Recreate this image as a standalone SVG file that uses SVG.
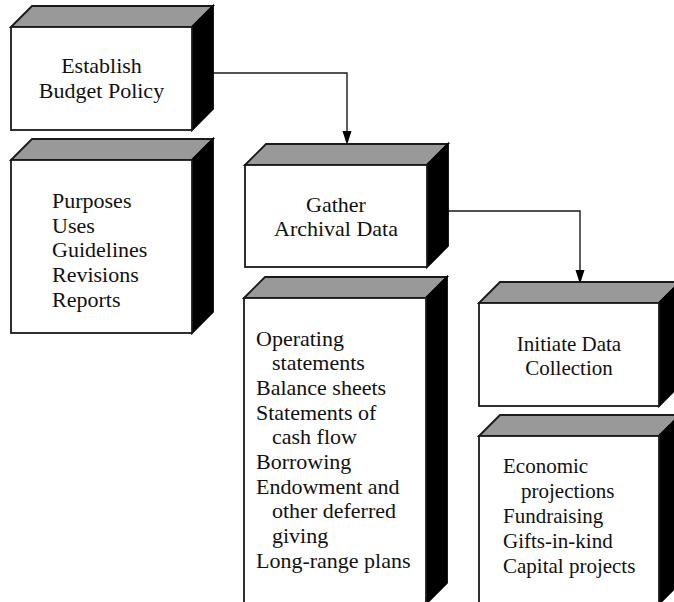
<svg xmlns="http://www.w3.org/2000/svg" width="674" height="602" viewBox="0 0 674 602">
  <defs>
    <style>
      .front { fill: #ffffff; stroke: #1a1a1a; stroke-width: 1.8; stroke-linejoin: miter; }
      .top { fill: #999999; stroke: #1a1a1a; stroke-width: 1.8; stroke-linejoin: miter; }
      .side { fill: #000000; stroke: #000000; stroke-width: 1.8; stroke-linejoin: miter; }
      .wire { fill: none; stroke: #1a1a1a; stroke-width: 1.4; }
      .head { fill: #000000; }
      text { font-family: "Liberation Serif", "Times New Roman", serif; font-size: 22px; fill: #111111; }
      .right text { font-size: 21px; }
      .c { text-anchor: middle; }
    </style>
  </defs>

  <rect width="674" height="602" fill="#ffffff"/>

  <!-- connectors -->
  <g id="connectors">
    <path class="wire" d="M213,73 H347 V131"/>
    <path class="head" d="M342.5,131 L351.5,131 L347,145 Z"/>
    <path class="wire" d="M448,211 H580 V270"/>
    <path class="head" d="M575.5,270 L584.5,270 L580,284 Z"/>
  </g>

  <!-- Establish Budget Policy -->
  <g id="establish">
    <polygon class="top" points="11,27 32,6 213,6 192,27"/>
    <polygon class="side" points="192,27 213,6 213,109 192,130"/>
    <rect class="front" x="11" y="27" width="181" height="103"/>
    <text class="c" x="101.5" y="73">Establish</text>
    <text class="c" x="101.5" y="98">Budget Policy</text>
  </g>

  <!-- Policy contents -->
  <g id="policy-items">
    <polygon class="top" points="11,160 32,139 213,139 192,160"/>
    <polygon class="side" points="192,160 213,139 213,312 192,333"/>
    <rect class="front" x="11" y="160" width="181" height="173"/>
    <text x="52" y="208">Purposes</text>
    <text x="52" y="232.7">Uses</text>
    <text x="52" y="257.4">Guidelines</text>
    <text x="52" y="282.1">Revisions</text>
    <text x="52" y="306.8">Reports</text>
  </g>

  <!-- Gather Archival Data -->
  <g id="gather">
    <polygon class="top" points="245,165 266,144 448,144 427,165"/>
    <polygon class="side" points="427,165 448,144 448,246 427,267"/>
    <rect class="front" x="245" y="165" width="182" height="102"/>
    <text class="c" x="336" y="212">Gather</text>
    <text class="c" x="336" y="236">Archival Data</text>
  </g>

  <!-- Archival data contents -->
  <g id="archival-items">
    <polygon class="top" points="244,298 265,277 447,277 426,298"/>
    <polygon class="side" points="426,298 447,277 447,583 426,604"/>
    <rect class="front" x="244" y="298" width="182" height="306"/>
    <text x="256" y="345.5">Operating</text>
    <text x="272" y="370.2">statements</text>
    <text x="256" y="394.9">Balance sheets</text>
    <text x="256" y="419.6">Statements of</text>
    <text x="272" y="444.3">cash flow</text>
    <text x="256" y="469">Borrowing</text>
    <text x="256" y="493.7">Endowment and</text>
    <text x="272" y="518.4">other deferred</text>
    <text x="272" y="543.1">giving</text>
    <text x="256" y="567.8">Long-range plans</text>
  </g>

  <g class="right">
    <!-- Initiate Data Collection -->
    <g id="initiate">
      <polygon class="top" points="479,303 500,282 680,282 659,303"/>
      <polygon class="side" points="659,303 680,282 680,385 659,406"/>
      <rect class="front" x="479" y="303" width="180" height="103"/>
      <text class="c" x="569" y="351">Initiate Data</text>
      <text class="c" x="569" y="375">Collection</text>
    </g>

    <!-- Data collection contents -->
    <g id="collection-items">
      <polygon class="top" points="479,436 500,415 680,415 659,436"/>
      <polygon class="side" points="659,436 680,415 680,583 659,604"/>
      <rect class="front" x="479" y="436" width="180" height="168"/>
      <text x="503" y="473">Economic</text>
      <text x="521" y="498">projections</text>
      <text x="503" y="523">Fundraising</text>
      <text x="503" y="548">Gifts-in-kind</text>
      <text x="503" y="573">Capital projects</text>
    </g>
  </g>
</svg>
